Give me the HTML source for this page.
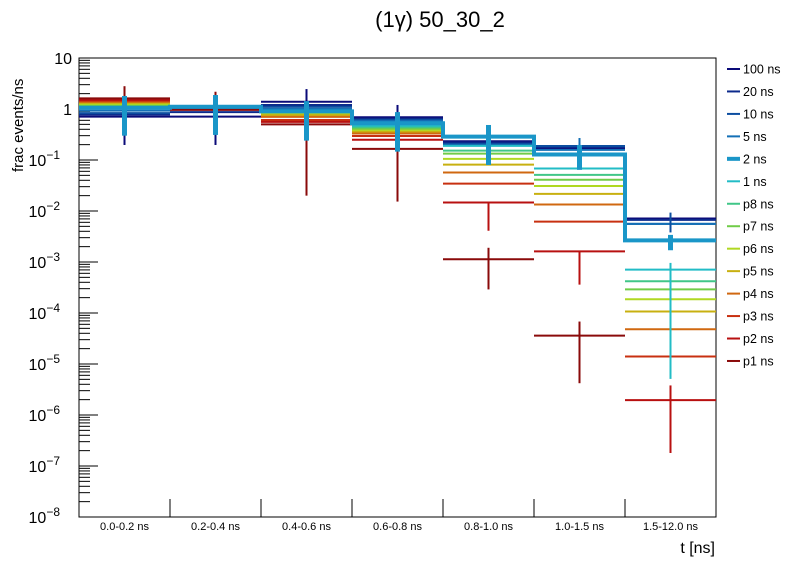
<!DOCTYPE html>
<html><head><meta charset="utf-8"><style>
body{margin:0;background:#fff;font-family:"Liberation Sans",sans-serif}
svg text{font-family:"Liberation Sans",sans-serif}
</style></head><body>
<svg id="c" width="796" height="572" xmlns="http://www.w3.org/2000/svg">
<rect width="796" height="572" fill="#fff"/>
<text x="440" y="27" font-size="22" text-anchor="middle">(1γ) 50_30_2</text>
<text transform="translate(23,172) rotate(-90)" font-size="15">frac events/ns</text>
<text x="715" y="553" font-size="16" text-anchor="end">t [ns]</text>
<g id="ax"></g><g id="marks"></g><g id="leg"></g>
</svg>
<script>
const categories=["0.0-0.2 ns","0.2-0.4 ns","0.4-0.6 ns","0.6-0.8 ns","0.8-1.0 ns","1.0-1.5 ns","1.5-12.0 ns"];
const seriesNames=["100 ns","20 ns","10 ns","5 ns","2 ns","1 ns","p8 ns","p7 ns","p6 ns","p5 ns","p4 ns","p3 ns","p2 ns","p1 ns"];
const seriesColors=["#0a0a78","#0c2a8c","#0c4ea0","#1470b6","#1a96c8","#22bcc6","#40c688","#70cc48","#b0d822","#c8b010","#d06810","#c83010","#b81010","#8a0a0a"];
const s100=[0.71,0.71,1.39,0.69,0.233,0.167,0.00713];
const s20=[0.78,0.87,1.2,0.645,0.22,0.18,0.0067];
const s10=[0.83,1.0,1.1,0.61,0.206,0.188,0.0056];
const s5=[0.93,1.0,1.0,0.58,0.195,0.158,0.0056];
const s2=[1.06,1.11,0.9,0.525,0.287,0.128,0.00265];
const s1=[1.1,1.1,0.87,0.465,0.189,0.068,0.00071];
const sp8=[1.15,1.1,0.85,0.43,0.153,0.051,0.00042];
const sp7=[1.2,1.1,0.83,0.40,0.133,0.041,0.00029];
const sp6=[1.26,1.1,0.8,0.376,0.105,0.031,0.000186];
const sp5=[1.32,1.1,0.76,0.355,0.081,0.0217,0.000107];
const sp4=[1.38,1.1,0.7,0.33,0.057,0.0134,0.000048];
const sp3=[1.45,1.1,0.61,0.296,0.0345,0.0062,0.000014];
const sp2=[1.51,1.1,0.56,0.25,0.0147,0.00162,0.00000196];
const sp1=[1.62,0.96,0.5,0.165,0.00113,0.000036,null];
const seriesValues=[s100,s20,s10,s5,s2,s1,sp8,sp7,sp6,sp5,sp4,sp3,sp2,sp1];
// error bars: [bin, series index, low, high]
const errorBars=[[0,13,1.62,2.8],[0,0,0.197,0.71],[1,13,0.96,2.18],[1,0,0.197,0.71],
[2,0,1.39,2.46],[2,13,0.02,0.5],[3,0,0.69,1.2],[3,13,0.0153,0.165],
[4,12,0.0041,0.0147],[4,13,0.00029,0.0019],[5,3,0.158,0.27],[5,12,0.00036,0.00162],[5,13,0.0000042,0.000068],
[6,2,0.0038,0.0093],[6,5,0.0000051,0.00096],[6,12,0.00000018,0.0000038]];
const err2ns=[[0.30,1.8],[0.31,1.88],[0.24,1.43],[0.146,0.87],[0.080,0.486],[0.064,0.197],[0.0017,0.0034]];
const yTickExp=[1,0,-1,-2,-3,-4,-5,-6,-7,-8];

const X0=79,X1=716,Y0=58,Y1=517;
const NS="http://www.w3.org/2000/svg";
function yS(v){return Y0+(1-Math.log10(v))*(Y1-Y0)/9;}
function xS(i){return X0+i*(X1-X0)/categories.length;}
function mk(tag,attrs,parent){const e=document.createElementNS(NS,tag);for(const k in attrs)e.setAttribute(k,attrs[k]);parent.appendChild(e);return e;}
const ax=document.getElementById('ax'),marks=document.getElementById('marks'),leg=document.getElementById('leg');
let fr=mk('rect',{x:X0,y:Y0,width:X1-X0,height:Y1-Y0,fill:'none',stroke:'#000','stroke-width':1},ax);


yTickExp.forEach(e=>{
  const y=yS(Math.pow(10,e));
  const t=mk('line',{x1:X0,x2:X0+19,y1:y,y2:y,stroke:'#000'},ax);
  
  
  const lb=mk('text',{x:e>=0?72:64,y:y+6,'font-size':16,'text-anchor':'end'},ax);
  
  
  if(e===1)lb.textContent='10';else if(e===0)lb.textContent='1';
  else{lb.textContent='10';const s=mk('tspan',{dy:-7,'font-size':12},lb);s.textContent=String(e).replace('-','−');lb.setAttribute('x',72-12);}
  if(e>-8)for(let m=2;m<10;m++){const yy=yS(m*Math.pow(10,e-1));
    const mt=mk('line',{x1:X0,x2:X0+11,y1:yy,y2:yy,stroke:'#000'},ax);
    
    }
});
categories.forEach((c,i)=>{
  if(i>0){const t=mk('line',{x1:xS(i),x2:xS(i),y1:Y1,y2:Y1-18,stroke:'#000'},ax);
    
    }
  const lb=mk('text',{x:(xS(i)+xS(i+1))/2,y:530,'font-size':11,'text-anchor':'middle'},ax);
  
  
  lb.textContent=c;
});
// series lines
seriesValues.forEach((vals,si)=>{
  if(si===4)return;
  vals.forEach((v,b)=>{if(v==null)return;
    const l=mk('line',{x1:xS(b),x2:xS(b+1),y1:yS(v),y2:yS(v),stroke:seriesColors[si],'stroke-width':2},marks);
    
    });
});
errorBars.forEach(e=>{const xc=(xS(e[0])+xS(e[0]+1))/2;
  const l=mk('line',{x1:xc,x2:xc,y1:yS(e[2]),y2:yS(e[3]),stroke:seriesColors[e[1]],'stroke-width':2},marks);
  
  });
// 2 ns thick step
let d='';s2.forEach((v,b)=>{d+=(b===0?'M':'L')+xS(b)+','+yS(v)+'L'+xS(b+1)+','+yS(v);});
const p=mk('path',{d:d,fill:'none',stroke:seriesColors[4],'stroke-width':4},marks);


err2ns.forEach((e,b)=>{const xc=(xS(b)+xS(b+1))/2;
  const l=mk('line',{x1:xc,x2:xc,y1:yS(e[0]),y2:yS(e[1]),stroke:seriesColors[4],'stroke-width':5},marks);
  
  });
// legend
seriesNames.forEach((n,i)=>{const y=69+i*22.46;
  const g=mk('g',{},leg);
  
  
  mk('line',{x1:727,x2:740,y1:y,y2:y,stroke:seriesColors[i],'stroke-width':i===4?4:2},g);
  const t=mk('text',{x:743,y:y+4.5,'font-size':12.5},g);t.textContent=n;});
</script>
</body></html>
